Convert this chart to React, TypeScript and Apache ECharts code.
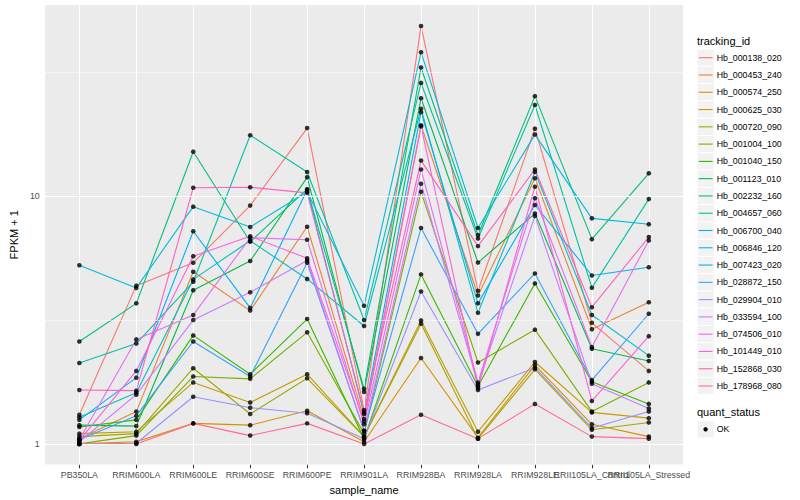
import React, { useEffect, useRef } from 'react';
import * as echarts from 'echarts';

const categories = ['PB350LA', 'RRIM600LA', 'RRIM600LE', 'RRIM600SE', 'RRIM600PE', 'RRIM901LA', 'RRIM928BA', 'RRIM928LA', 'RRIM928LE', 'RRII105LA_Control', 'RRII105LA_Stressed'];

const trackingIds = ['Hb_000138_020', 'Hb_000453_240', 'Hb_000574_250', 'Hb_000625_030', 'Hb_000720_090', 'Hb_001004_100', 'Hb_001040_150', 'Hb_001123_010', 'Hb_002232_160', 'Hb_004657_060', 'Hb_006700_040', 'Hb_006846_120', 'Hb_007423_020', 'Hb_028872_150', 'Hb_029904_010', 'Hb_033594_100', 'Hb_074506_010', 'Hb_101449_010', 'Hb_152868_030', 'Hb_178968_080'];

const palette = ['#F8766D', '#EA8331', '#D89000', '#C09B00', '#A3A500', '#7CAE00', '#39B600', '#00BB4E', '#00BF7D', '#00C1A3', '#00BFC4', '#00BAE0', '#00B0F6', '#35A2FF', '#9590FF', '#C77CFF', '#E76BF3', '#FA62DB', '#FF62BC', '#FF6C91'];

// FPKM + 1 per sample, in category order
const hb_000138_020 = [1.31, 4.35, 5.38, 9.15, 18.8, 1.37, 48.5, 4.15, 18.7, 3.08, 1.97];
const hb_000453_240 = [1.05, 1.35, 4.95, 3.45, 7.52, 1.26, 19.3, 3.97, 11.8, 2.9, 3.73];
const hb_000574_250 = [1.0, 1.02, 1.21, 1.19, 1.36, 1.02, 2.22, 1.06, 2.08, 1.2, 1.07];
const hb_000625_030 = [1.1, 1.12, 1.77, 1.47, 1.91, 1.07, 3.15, 1.12, 2.14, 1.34, 1.27];
const hb_000720_090 = [1.07, 1.1, 2.02, 1.32, 1.84, 1.07, 3.05, 1.05, 2.0, 1.14, 1.22];
const hb_001004_100 = [1.0, 1.08, 1.87, 1.83, 2.82, 1.1, 10.4, 2.13, 2.89, 1.35, 1.77];
const hb_001040_150 = [1.17, 1.25, 2.74, 1.91, 3.19, 1.05, 4.83, 1.71, 4.44, 1.78, 1.45];
const hb_001123_010 = [1.19, 1.18, 4.17, 5.47, 11.9, 1.62, 24.8, 5.39, 8.5, 2.42, 2.16];
const hb_002232_160 = [2.59, 3.69, 15.1, 6.54, 10.66, 1.67, 33.0, 6.96, 25.3, 6.7, 12.35];
const hb_004657_060 = [2.12, 2.54, 4.51, 17.6, 12.5, 3.16, 28.6, 6.74, 23.3, 4.27, 9.72];
const hb_006700_040 = [1.28, 1.61, 4.61, 6.6, 4.63, 2.99, 22.5, 3.38, 12.5, 3.31, 2.27];
const hb_006846_120 = [5.26, 4.26, 9.06, 7.5, 10.4, 3.61, 38.0, 7.43, 17.7, 8.13, 7.7];
const hb_007423_020 = [1.25, 1.85, 7.21, 3.54, 10.6, 1.32, 21.8, 3.69, 9.2, 4.78, 5.16];
const hb_028872_150 = [1.04, 1.3, 2.59, 1.87, 5.38, 1.13, 7.43, 2.78, 4.87, 1.81, 3.35];
const hb_029904_010 = [1.0, 1.006, 1.55, 1.4, 1.33, 1.05, 4.12, 1.65, 2.03, 1.16, 1.35];
const hb_033594_100 = [1.02, 1.58, 3.16, 4.09, 5.5, 1.13, 11.2, 1.74, 8.3, 1.75, 1.39];
const hb_074506_010 = [1.04, 2.64, 3.31, 6.79, 6.66, 1.2, 12.8, 1.77, 9.8, 2.46, 6.62];
const hb_101449_010 = [1.03, 1.97, 5.72, 6.88, 5.61, 1.23, 19.1, 1.68, 10.9, 1.49, 2.72];
const hb_152868_030 = [1.65, 1.64, 10.8, 10.85, 10.3, 1.34, 13.9, 6.28, 12.8, 3.56, 6.83];
const hb_178968_080 = [1.0, 1.0, 1.21, 1.08, 1.21, 1.0, 1.31, 1.05, 1.45, 1.07, 1.05];

const seriesValues = [hb_000138_020, hb_000453_240, hb_000574_250, hb_000625_030, hb_000720_090, hb_001004_100, hb_001040_150, hb_001123_010, hb_002232_160, hb_004657_060, hb_006700_040, hb_006846_120, hb_007423_020, hb_028872_150, hb_029904_010, hb_033594_100, hb_074506_010, hb_101449_010, hb_152868_030, hb_178968_080];

const yTicks = [1, 10];
const yMinor = [Math.sqrt(10), Math.pow(10, 1.5)];
const statusLevels = ['OK'];

const FONT = 'Liberation Sans, Arial, Helvetica, sans-serif';

export default function App() {
  const ref = useRef<HTMLDivElement>(null);
  useEffect(() => {
    const chart = echarts.init(ref.current as HTMLDivElement, null, { renderer: 'svg' });
    const xIdx = categories.map((_, i) => i);
    // labels split over two coincident axes so that overlapping neighbours are both kept
    const labelSetA = xIdx.filter((i) => !(i === 8 || i === 10));
    const labelSetB = xIdx.filter((i) => i === 8 || i === 10);

    const lineSeries = seriesValues.map((vals, s) => ({
      type: 'line',
      name: trackingIds[s],
      data: vals.map((v, i) => [i, v]),
      symbol: 'none',
      z: 3,
      lineStyle: { color: palette[s], width: 1.1 },
      itemStyle: { color: palette[s] },
      silent: true,
    }));

    const points: any[] = [];
    seriesValues.forEach((vals) => vals.forEach((v, i) => points.push([i, v])));

    const gridSeries = {
      type: 'line',
      data: [],
      z: 1,
      silent: true,
      markLine: {
        silent: true,
        symbol: ['none', 'none'],
        label: { show: false },
        animation: false,
        lineStyle: { color: '#FFFFFF', type: 'solid', width: 1.07 },
        data: [
          ...yMinor.map((v) => ({ yAxis: v, lineStyle: { color: '#FFFFFF', type: 'solid', width: 0.53 } })),
          ...yTicks.map((v) => ({ yAxis: v })),
          ...xIdx.map((i) => ({ xAxis: i })),
        ],
      },
    };

    const legendEls: any[] = [];
    legendEls.push({
      type: 'text', x: 697, y: 40.7, z: 10,
      style: { text: 'tracking_id', fontSize: 11, fontFamily: FONT, fill: '#000000', verticalAlign: 'middle', textVerticalAlign: 'middle' },
    });
    trackingIds.forEach((id, i) => {
      const cy = 57.7 + 17.28 * i;
      legendEls.push({ type: 'rect', z: 10, shape: { x: 697, y: cy - 8.64, width: 17.28, height: 17.28 }, style: { fill: '#F2F2F2', stroke: '#FFFFFF', lineWidth: 1 } });
      legendEls.push({ type: 'line', z: 11, shape: { x1: 698.7, y1: cy, x2: 712.6, y2: cy }, style: { stroke: palette[i], lineWidth: 1.1 } });
      legendEls.push({ type: 'text', z: 11, x: 716.7, y: cy, style: { text: id, fontSize: 8.8, fontFamily: FONT, fill: '#000000', verticalAlign: 'middle', textVerticalAlign: 'middle' } });
    });
    legendEls.push({
      type: 'text', x: 697, y: 412, z: 10,
      style: { text: 'quant_status', fontSize: 11, fontFamily: FONT, fill: '#000000', verticalAlign: 'middle', textVerticalAlign: 'middle' },
    });
    statusLevels.forEach((lv, i) => {
      const cy = 429.3 + 17.28 * i;
      legendEls.push({ type: 'rect', z: 10, shape: { x: 697, y: cy - 8.64, width: 17.28, height: 17.28 }, style: { fill: '#F2F2F2', stroke: '#FFFFFF', lineWidth: 1 } });
      legendEls.push({ type: 'circle', z: 11, shape: { cx: 705.6, cy, r: 2.2 }, style: { fill: '#000000' } });
      legendEls.push({ type: 'text', z: 11, x: 716.7, y: cy, style: { text: lv, fontSize: 8.8, fontFamily: FONT, fill: '#000000', verticalAlign: 'middle', textVerticalAlign: 'middle' } });
    });

    const xLabelBase = {
      formatter: (v: number) => categories[Math.round(v)] ?? '',
      fontSize: 8.8,
      color: '#4D4D4D',
      margin: 5.5,
      hideOverlap: false,
      showMinLabel: true,
      showMaxLabel: true,
      fontFamily: FONT,
    };

    const option: any = {
      animation: false,
      backgroundColor: '#FFFFFF',
      textStyle: { fontFamily: FONT },
      grid: { left: 35, top: 5, width: 648, height: 463, show: true, backgroundColor: '#EBEBEB', borderWidth: 0 },
      xAxis: [
        {
          type: 'value',
          position: 'bottom',
          offset: 0,
          min: -0.6,
          max: 10.6,
          name: 'sample_name',
          nameLocation: 'middle',
          nameGap: 17,
          nameTextStyle: { fontSize: 11, color: '#000000', fontFamily: FONT },
          axisLine: { show: false },
          splitLine: { show: false },
          axisTick: { show: true, length: 3.7, customValues: xIdx, lineStyle: { color: '#333333', width: 1.07 } },
          axisLabel: { ...xLabelBase, customValues: labelSetA },
        },
        {
          type: 'value',
          position: 'bottom',
          offset: 0,
          min: -0.6,
          max: 10.6,
          axisLine: { show: false },
          splitLine: { show: false },
          axisTick: { show: false },
          axisLabel: { ...xLabelBase, customValues: labelSetB },
        },
      ],
      yAxis: {
        type: 'log',
        logBase: 10,
        min: 0.825,
        max: 59,
        name: 'FPKM + 1',
        nameLocation: 'middle',
        nameGap: 18,
        nameTextStyle: { fontSize: 11, color: '#000000', fontFamily: FONT },
        axisLine: { show: false },
        splitLine: { show: false },
        minorSplitLine: { show: false },
        axisTick: { show: true, length: 3.7, customValues: yTicks, lineStyle: { color: '#333333', width: 1.07 } },
        axisLabel: {
          customValues: yTicks,
          formatter: (v: number) => String(Math.round(v)),
          fontSize: 8.8,
          color: '#4D4D4D',
          margin: 5.5,
          showMinLabel: true,
          showMaxLabel: true,
          fontFamily: FONT,
        },
      },
      graphic: legendEls,
      series: [
        gridSeries,
        ...lineSeries,
        {
          type: 'scatter',
          name: 'OK',
          data: points,
          symbol: 'circle',
          symbolSize: 4.6,
          z: 5,
          silent: true,
          itemStyle: { color: '#000000' },
        },
      ],
    };
    chart.setOption(option);
    return () => chart.dispose();
  }, []);
  return <div ref={ref} style={{ position: 'fixed', left: 0, top: 0, width: 800, height: 500, background: '#FFFFFF' }} />;
}
